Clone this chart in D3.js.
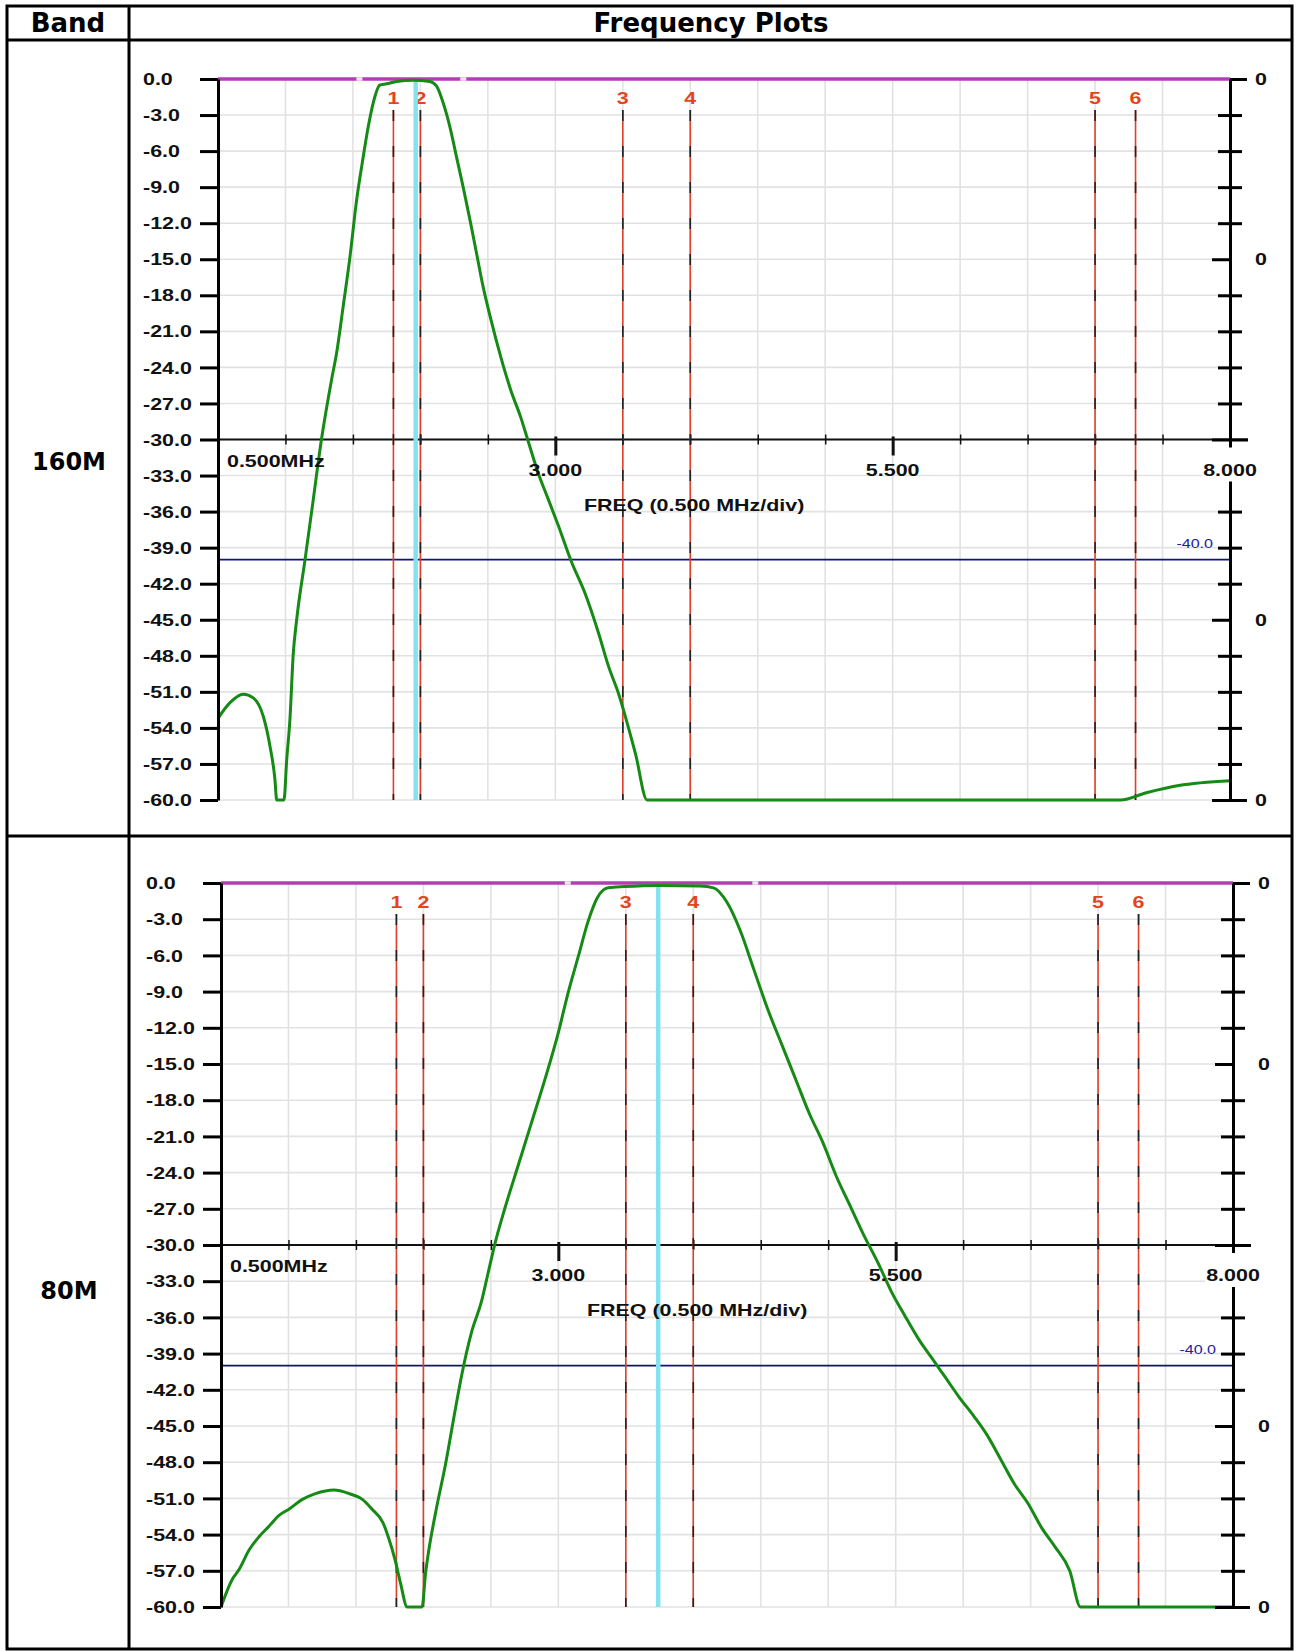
<!DOCTYPE html>
<html><head><meta charset="utf-8">
<script src="https://cdn.jsdelivr.net/npm/d3@7"></script>
<style>
html,body{margin:0;padding:0;background:#fff;}
svg{display:block;}
.ax{font-family:"Liberation Sans",Arial,sans-serif;font-weight:bold;font-size:16px;}
.hdr{font-family:"DejaVu Sans",Verdana,sans-serif;font-weight:bold;fill:#000;}
</style></head><body>
<script>
// ---------------- DATA ----------------
const bandNames = ["160M", "80M"];
const yTickValues = [0,-3,-6,-9,-12,-15,-18,-21,-24,-27,-30,-33,-36,-39,-42,-45,-48,-51,-54,-57,-60];
const yTickLabels = ["0.0","-3.0","-6.0","-9.0","-12.0","-15.0","-18.0","-21.0","-24.0","-27.0","-30.0","-33.0","-36.0","-39.0","-42.0","-45.0","-48.0","-51.0","-54.0","-57.0","-60.0"];
const xTickValues = [0.5,1.0,1.5,2.0,2.5,3.0,3.5,4.0,4.5,5.0,5.5,6.0,6.5,7.0,7.5,8.0];
const xLabelValues = [0.5, 3.0, 5.5, 8.0];
const xLabelTexts = ["0.500MHz", "3.000", "5.500", "8.000"];
const rightLabelValues = [0, -15, -45, -60];
const rightLabelTexts = ["0", "0", "0", "0"];
const markerFreqs = [1.8, 2.0, 3.5, 4.0, 7.0, 7.3];
const markerLabels = ["1", "2", "3", "4", "5", "6"];
const refLevel = -40;
const refLabel = "-40.0";
const axisTitle = "FREQ (0.500 MHz/div)";

// 160M filter response
const freq160 = [0.5,0.589,0.687,0.761,0.836,0.885,0.922,0.935,0.989,1.009,1.033,1.058,1.083,1.145,1.20,1.268,1.342,1.379,1.428,1.478,1.527,1.576,1.613,1.65,1.70,1.75,1.824,1.947,2.07,2.12,2.169,2.219,2.268,2.317,2.367,2.416,2.465,2.52,2.595,2.67,2.745,2.795,2.87,2.945,3.02,3.12,3.22,3.32,3.395,3.47,3.52,3.595,3.68,7.19,7.38,7.62,8.0];
const db160 = [-53.2,-51.9,-51.2,-51.5,-53.05,-55.5,-58.3,-60,-60,-56.7,-53.3,-47.8,-45.0,-40.0,-35.5,-29.9,-25.0,-22.8,-18.9,-14.8,-10.1,-6.5,-4.0,-2.0,-0.5,-0.4,-0.2,-0.1,-0.2,-0.6,-2.0,-4.0,-6.5,-9.0,-11.7,-14.5,-17.3,-19.9,-23.1,-25.9,-28.2,-30.0,-32.7,-34.9,-37.1,-40.2,-42.8,-46.1,-48.9,-51.2,-53.1,-56.2,-60,-60,-59.4,-58.8,-58.4];
const center160 = 1.965;
const gaps160 = [1.548, 2.318];

// 80M filter response
const freq80 = [0.5,0.584,0.634,0.707,0.78,0.856,0.93,1.003,1.10,1.20,1.337,1.45,1.55,1.62,1.70,1.74,1.79,1.83,1.88,1.99,2.016,2.04,2.09,2.165,2.24,2.28,2.36,2.43,2.48,2.53,2.60,2.70,2.80,2.90,3.00,3.07,3.15,3.22,3.29,3.37,3.49,3.74,4.05,4.15,4.25,4.35,4.45,4.55,4.66,4.76,4.86,4.96,5.06,5.16,5.26,5.37,5.47,5.57,5.67,5.77,5.87,5.97,6.08,6.18,6.28,6.38,6.48,6.58,6.68,6.79,6.87,8.0];
const db80 = [-60,-57.7,-56.9,-55.3,-54.2,-53.3,-52.4,-51.9,-51.1,-50.6,-50.3,-50.6,-51.1,-51.9,-53.0,-54.2,-56.1,-58.0,-60,-60,-57.2,-55.3,-52.2,-48.1,-43.4,-41.0,-37.1,-34.7,-32.3,-29.9,-27.1,-23.5,-19.9,-16.3,-12.4,-9.2,-6.0,-3.2,-1.2,-0.4,-0.3,-0.2,-0.25,-0.4,-1.6,-4.0,-7.2,-10.4,-13.5,-16.3,-19.1,-21.5,-24.3,-26.7,-29.1,-31.5,-33.9,-35.9,-37.8,-39.4,-41.0,-42.6,-44.2,-45.8,-47.8,-49.8,-51.4,-53.4,-55.0,-57.0,-60,-60];
const center80 = 3.74;
const gaps80 = [3.07, 4.46];

// ---------------- LAYOUT ----------------
const W = 1296, H = 1651;
const SX = 1.34; // horizontal stretch of the plot fonts
const svg = d3.select("body").append("svg").attr("width", W).attr("height", H);
svg.append("rect").attr("width", W).attr("height", H).attr("fill", "#fff");

function stext(g, x, y, str, anchor, color) {
  return g.append("text").attr("class", "ax")
    .attr("transform", `translate(${x},${y}) scale(${SX},1)`)
    .attr("text-anchor", anchor || "start")
    .style("fill", color || "#111").text(str);
}

// table
const tb = {l: 7, r: 1292, t: 6, h: 40, r1: 836, b: 1649, c: 129};
const tg = svg.append("g").attr("stroke", "#000").attr("stroke-width", 3).attr("fill", "none");
tg.append("rect").attr("x", tb.l).attr("y", tb.t).attr("width", tb.r - tb.l).attr("height", tb.b - tb.t);
tg.append("line").attr("x1", tb.l).attr("x2", tb.r).attr("y1", tb.h).attr("y2", tb.h);
tg.append("line").attr("x1", tb.l).attr("x2", tb.r).attr("y1", tb.r1).attr("y2", tb.r1);
tg.append("line").attr("x1", tb.c).attr("x2", tb.c).attr("y1", tb.t).attr("y2", tb.b);
svg.append("text").attr("class", "hdr").attr("font-size", 26).attr("x", 68).attr("y", 32).attr("text-anchor", "middle").text("Band");
svg.append("text").attr("class", "hdr").attr("font-size", 26).attr("x", 711).attr("y", 32).attr("text-anchor", "middle").text("Frequency Plots");

const charts = [
  {name: bandNames[0], x0: 218, y0: 79, h: 721, freq: freq160, db: db160, center: center160, gaps: gaps160, labelY: 470},
  {name: bandNames[1], x0: 221, y0: 883, h: 724, freq: freq80, db: db80, center: center80, gaps: gaps80, labelY: 1299}
];

charts.forEach(c => {
  svg.append("text").attr("class", "hdr").attr("font-size", 24).attr("x", 69).attr("y", c.labelY)
    .attr("text-anchor", "middle").text(c.name);

  const x = d3.scaleLinear().domain([0.5, 8.0]).range([c.x0, c.x0 + 1012]);
  const y = d3.scaleLinear().domain([0, -60]).range([c.y0, c.y0 + c.h]);
  const g = svg.append("g");

  // grid
  g.append("g").selectAll("line").data(xTickValues.slice(1, -1)).join("line")
    .attr("x1", d => x(d)).attr("x2", d => x(d)).attr("y1", y(0)).attr("y2", y(-60))
    .attr("stroke", "#e2e2e2").attr("stroke-width", 1.6);
  g.append("g").selectAll("line").data(yTickValues.slice(1)).join("line")
    .attr("x1", x(0.5)).attr("x2", x(8)).attr("y1", d => y(d)).attr("y2", d => y(d))
    .attr("stroke", "#e2e2e2").attr("stroke-width", 1.6);

  // reference line at -40
  g.append("line").attr("x1", x(0.5)).attr("x2", x(8)).attr("y1", y(refLevel)).attr("y2", y(refLevel))
    .attr("stroke", "#12127e").attr("stroke-width", 1.6);
  g.append("text").attr("transform", `translate(${x(8) - 17},${y(refLevel) - 12}) scale(${SX},1)`)
    .attr("text-anchor", "end").attr("font-family", "Liberation Sans, Arial, sans-serif")
    .attr("font-size", 12).attr("fill", "#2020a0").text(refLabel);

  // x axis at -30
  const xAxis = d3.axisBottom(x).tickValues(xTickValues).tickSizeOuter(0).tickFormat("");
  const xa = g.append("g").attr("transform", `translate(0,${y(-30)})`).call(xAxis);
  xa.select(".domain").remove();
  xa.selectAll(".tick line").attr("y1", d => (d === 3.0 || d === 5.5) ? -3 : -5)
    .attr("y2", d => (d === 3.0 || d === 5.5) ? 16 : 5)
    .attr("stroke", "#111").attr("stroke-width", d => (d === 3.0 || d === 5.5) ? 3 : 1.5);
  xa.selectAll(".tick").filter(d => d === 0.5 || d === 8.0).remove();
  g.append("line").attr("x1", x(0.5)).attr("x2", x(8) + 18).attr("y1", y(-30)).attr("y2", y(-30))
    .attr("stroke", "#111").attr("stroke-width", 2);

  // marker lines
  markerFreqs.forEach((f, i) => {
    g.append("line").attr("x1", x(f)).attr("x2", x(f)).attr("y1", c.y0 + 31).attr("y2", y(-60))
      .attr("stroke", "#e0402a").attr("stroke-width", 1.6);
    g.append("line").attr("x1", x(f)).attr("x2", x(f)).attr("y1", c.y0 + 31).attr("y2", y(-60))
      .attr("stroke", "#222").attr("stroke-width", 1.6).attr("stroke-dasharray", "11,25");
    stext(g, x(f), c.y0 + 25, markerLabels[i], "middle", "#e2451c");
  });

  // center (cyan) line
  g.append("line").attr("x1", x(c.center)).attr("x2", x(c.center)).attr("y1", y(0)).attr("y2", y(-60))
    .attr("stroke", "#84e2f0").attr("stroke-width", 4.5);

  // 0 dB magenta line
  g.append("line").attr("x1", x(0.5)).attr("x2", x(8)).attr("y1", y(0)).attr("y2", y(0))
    .attr("stroke", "#b43cb4").attr("stroke-width", 3.5);
  g.selectAll(null).data(c.gaps).join("line")
    .attr("x1", d => x(d) - 3).attr("x2", d => x(d) + 3).attr("y1", y(0)).attr("y2", y(0))
    .attr("stroke", "#f0e8f0").attr("stroke-width", 3.5);

  // response curve
  const pts = c.freq.map((f, i) => [f, c.db[i]]);
  g.append("path").datum(pts)
    .attr("d", d3.line().curve(d3.curveMonotoneX).x(d => x(d[0])).y(d => y(d[1])))
    .attr("fill", "none").attr("stroke", "#158a15").attr("stroke-width", 3).attr("stroke-linejoin", "round");

  // left axis
  const yAxis = d3.axisLeft(y).tickValues(yTickValues).tickSize(18).tickSizeOuter(0)
    .tickFormat((d, i) => yTickLabels[i]);
  const ya = g.append("g").attr("transform", `translate(${x(0.5)},0)`).call(yAxis);
  ya.select(".domain").attr("stroke", "#000").attr("stroke-width", 3);
  ya.selectAll(".tick line").attr("stroke", "#000").attr("stroke-width", 3);
  ya.selectAll(".tick text").attr("x", null).attr("dy", "0.35em").attr("text-anchor", "start")
    .attr("class", "ax").attr("font-size", null).attr("font-family", null).attr("fill", "#111")
    .attr("transform", `translate(-75,0) scale(${SX},1)`);

  // right axis
  const yAxisR = d3.axisRight(y).tickValues(yTickValues).tickSize(12).tickSizeOuter(0).tickFormat("");
  const ra = g.append("g").attr("transform", `translate(${x(8)},0)`).call(yAxisR);
  ra.select(".domain").attr("stroke", "#000").attr("stroke-width", 3);
  ra.selectAll(".tick line").attr("stroke", "#000").attr("stroke-width", 3)
    .attr("x1", d => (d === 0) ? 0 : (d === -15 || d === -45 || d === -30 || d === -60) ? -18 : -12)
    .attr("x2", d => (d === 0 || d === -60) ? 17 : (d === -15 || d === -45) ? 2 : (d === -30) ? 18 : 12);
  rightLabelValues.forEach((v, i) => stext(g, x(8) + 25, y(v) + 6, rightLabelTexts[i], "start"));

  // x labels
  xLabelValues.forEach((v, i) => {
    if (i === 0) {
      stext(g, x(v) + 9, y(-30) + 27, xLabelTexts[i], "start");
    } else {
      if (v === 8.0) {
        g.append("rect").attr("x", x(v) - 28).attr("y", y(-30) + 8).attr("width", 56).attr("height", 34).attr("fill", "#fff");
      }
      stext(g, x(v), y(-30) + 36, xLabelTexts[i], "middle");
    }
  });
  stext(g, x(0.5) + 366, y(-30) + 71, axisTitle, "start");
});
</script>
</body></html>
